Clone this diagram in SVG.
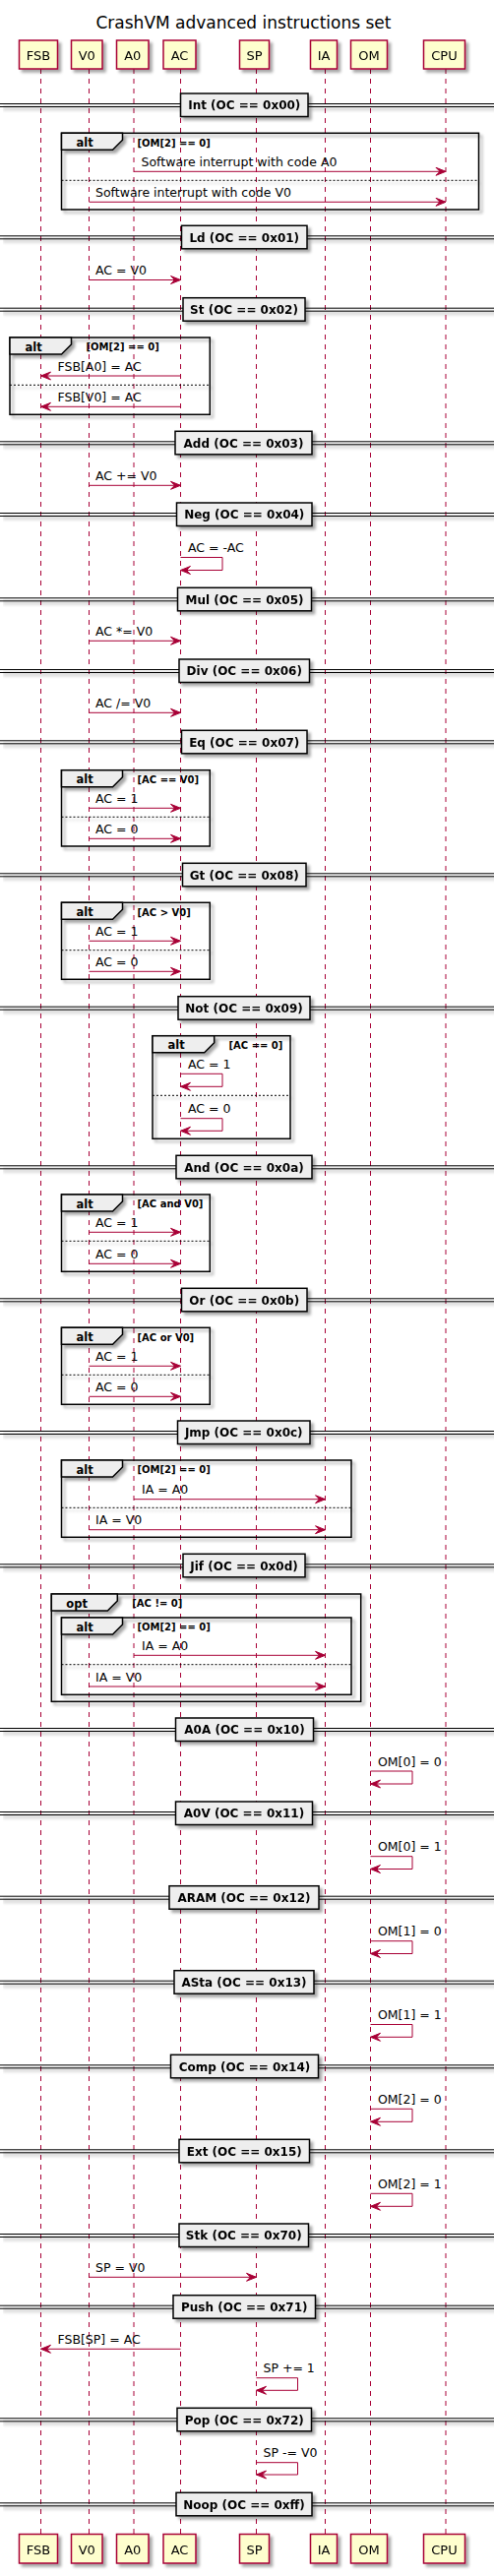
<svg xmlns="http://www.w3.org/2000/svg" width="502" height="2618" viewBox="0 0 502 2618">
<defs>
<filter id="sh" filterUnits="userSpaceOnUse" x="0" y="0" width="502" height="2618">
<feGaussianBlur in="SourceAlpha" stdDeviation="1.5"/>
<feOffset dx="3" dy="3"/>
<feComponentTransfer><feFuncA type="linear" slope="0.35"/></feComponentTransfer>
<feMerge><feMergeNode/><feMergeNode in="SourceGraphic"/></feMerge>
</filter>
<marker id="ah" viewBox="-1 -1 12 10" refX="10" refY="4" markerWidth="12" markerHeight="10" markerUnits="userSpaceOnUse" orient="auto">
<path d="M0,0 L10,4 L0,8 L4,4 Z" fill="#A80036" stroke="#A80036" stroke-width="1"/>
</marker>
</defs>
<style>
.t{font-family:"DejaVu Sans",sans-serif;fill:#000}
.title{font-size:17px;text-anchor:middle}
.pn{font-size:13px;text-anchor:middle}
.pb{fill:#FEFECE;stroke:#A80036;stroke-width:1.5}
.ll{stroke:#A80036;stroke-width:1;stroke-dasharray:5,5;fill:none}
.dl{stroke:#000;stroke-width:1}
.db{fill:#EEEEEE;stroke:#000;stroke-width:1.5}
.dt{font-size:12px;font-weight:bold;text-anchor:middle}
.fr{fill:none;stroke:#000;stroke-width:1.5}
.tab{fill:#EEEEEE;stroke:#000;stroke-width:1.5}
.ft{font-size:11.5px;font-weight:bold}
.gt{font-size:10px;font-weight:bold}
.sep{stroke:#000;stroke-width:1;stroke-dasharray:2,2}
.m{stroke:#A80036;stroke-width:1;fill:none;marker-end:url(#ah)}
.ml{font-size:12.5px}
</style>
<rect x="0" y="0" width="502" height="2618" fill="#FFFFFF"/>
<text class="t title" x="247.5" y="29">CrashVM advanced instructions set</text>

<g id="lifelines">
<line class="ll" x1="41.5" y1="70" x2="41.5" y2="2575"/>
<line class="ll" x1="90.5" y1="70" x2="90.5" y2="2575"/>
<line class="ll" x1="136" y1="70" x2="136" y2="2575"/>
<line class="ll" x1="183.5" y1="70" x2="183.5" y2="2575"/>
<line class="ll" x1="260.5" y1="70" x2="260.5" y2="2575"/>
<line class="ll" x1="330.5" y1="70" x2="330.5" y2="2575"/>
<line class="ll" x1="376.5" y1="70" x2="376.5" y2="2575"/>
<line class="ll" x1="453" y1="70" x2="453" y2="2575"/>
</g>

<g id="p-FSB" filter="url(#sh)">
<rect class="pb" x="19.5" y="41" width="39" height="29"/><text class="t pn" x="39" y="61">FSB</text>
<rect class="pb" x="19.5" y="2575.5" width="39" height="29.5"/><text class="t pn" x="39" y="2596">FSB</text>
</g>
<g id="p-V0" filter="url(#sh)">
<rect class="pb" x="72.5" y="41" width="31.5" height="29"/><text class="t pn" x="88.25" y="61">V0</text>
<rect class="pb" x="72.5" y="2575.5" width="31.5" height="29.5"/><text class="t pn" x="88.25" y="2596">V0</text>
</g>
<g id="p-A0" filter="url(#sh)">
<rect class="pb" x="118.5" y="41" width="32.5" height="29"/><text class="t pn" x="134.75" y="61">A0</text>
<rect class="pb" x="118.5" y="2575.5" width="32.5" height="29.5"/><text class="t pn" x="134.75" y="2596">A0</text>
</g>
<g id="p-AC" filter="url(#sh)">
<rect class="pb" x="166" y="41" width="33" height="29"/><text class="t pn" x="182.5" y="61">AC</text>
<rect class="pb" x="166" y="2575.5" width="33" height="29.5"/><text class="t pn" x="182.5" y="2596">AC</text>
</g>
<g id="p-SP" filter="url(#sh)">
<rect class="pb" x="243.5" y="41" width="30" height="29"/><text class="t pn" x="258.5" y="61">SP</text>
<rect class="pb" x="243.5" y="2575.5" width="30" height="29.5"/><text class="t pn" x="258.5" y="2596">SP</text>
</g>
<g id="p-IA" filter="url(#sh)">
<rect class="pb" x="315.5" y="41" width="27" height="29"/><text class="t pn" x="329" y="61">IA</text>
<rect class="pb" x="315.5" y="2575.5" width="27" height="29.5"/><text class="t pn" x="329" y="2596">IA</text>
</g>
<g id="p-OM" filter="url(#sh)">
<rect class="pb" x="356.5" y="41" width="37" height="29"/><text class="t pn" x="375" y="61">OM</text>
<rect class="pb" x="356.5" y="2575.5" width="37" height="29.5"/><text class="t pn" x="375" y="2596">OM</text>
</g>
<g id="p-CPU" filter="url(#sh)">
<rect class="pb" x="430.5" y="41" width="42" height="29"/><text class="t pn" x="451.5" y="61">CPU</text>
<rect class="pb" x="430.5" y="2575.5" width="42" height="29.5"/><text class="t pn" x="451.5" y="2596">CPU</text>
</g>

<g id="dividers">
<g id="d-int" filter="url(#sh)"><line class="dl" x1="0" y1="105.5" x2="502" y2="105.5"/><line class="dl" x1="0" y1="108.5" x2="502" y2="108.5"/><rect class="db" x="183.5" y="95" width="129.5" height="23.5"/><text class="t dt" x="248.25" y="111.3">Int (OC == 0x00)</text></g>
<g id="d-ld" filter="url(#sh)"><line class="dl" x1="0" y1="239.8" x2="502" y2="239.8"/><line class="dl" x1="0" y1="242.8" x2="502" y2="242.8"/><rect class="db" x="184.5" y="229.3" width="127.5" height="23.5"/><text class="t dt" x="248.25" y="245.6">Ld (OC == 0x01)</text></g>
<g id="d-st" filter="url(#sh)"><line class="dl" x1="0" y1="313.2" x2="502" y2="313.2"/><line class="dl" x1="0" y1="316.2" x2="502" y2="316.2"/><rect class="db" x="186" y="302.7" width="124" height="23.5"/><text class="t dt" x="248" y="319">St (OC == 0x02)</text></g>
<g id="d-add" filter="url(#sh)"><line class="dl" x1="0" y1="448.8" x2="502" y2="448.8"/><line class="dl" x1="0" y1="451.8" x2="502" y2="451.8"/><rect class="db" x="178" y="438.3" width="139" height="23.5"/><text class="t dt" x="247.5" y="454.6">Add (OC == 0x03)</text></g>
<g id="d-neg" filter="url(#sh)"><line class="dl" x1="0" y1="521.5" x2="502" y2="521.5"/><line class="dl" x1="0" y1="524.5" x2="502" y2="524.5"/><rect class="db" x="179.5" y="511" width="137.5" height="23.5"/><text class="t dt" x="248.25" y="527.3">Neg (OC == 0x04)</text></g>
<g id="d-mul" filter="url(#sh)"><line class="dl" x1="0" y1="607.8" x2="502" y2="607.8"/><line class="dl" x1="0" y1="610.8" x2="502" y2="610.8"/><rect class="db" x="180.5" y="597.3" width="136" height="23.5"/><text class="t dt" x="248.5" y="613.6">Mul (OC == 0x05)</text></g>
<g id="d-div" filter="url(#sh)"><line class="dl" x1="0" y1="680.5" x2="502" y2="680.5"/><line class="dl" x1="0" y1="683.5" x2="502" y2="683.5"/><rect class="db" x="182" y="670" width="132.5" height="23.5"/><text class="t dt" x="248.25" y="686.3">Div (OC == 0x06)</text></g>
<g id="d-eq" filter="url(#sh)"><line class="dl" x1="0" y1="752.8" x2="502" y2="752.8"/><line class="dl" x1="0" y1="755.8" x2="502" y2="755.8"/><rect class="db" x="184.5" y="742.3" width="127.5" height="23.5"/><text class="t dt" x="248.25" y="758.6">Eq (OC == 0x07)</text></g>
<g id="d-gt" filter="url(#sh)"><line class="dl" x1="0" y1="887.8" x2="502" y2="887.8"/><line class="dl" x1="0" y1="890.8" x2="502" y2="890.8"/><rect class="db" x="185.5" y="877.3" width="125.5" height="23.5"/><text class="t dt" x="248.25" y="893.6">Gt (OC == 0x08)</text></g>
<g id="d-not" filter="url(#sh)"><line class="dl" x1="0" y1="1023.2" x2="502" y2="1023.2"/><line class="dl" x1="0" y1="1026.2" x2="502" y2="1026.2"/><rect class="db" x="181" y="1012.7" width="134" height="23.5"/><text class="t dt" x="248" y="1029">Not (OC == 0x09)</text></g>
<g id="d-and" filter="url(#sh)"><line class="dl" x1="0" y1="1184.8" x2="502" y2="1184.8"/><line class="dl" x1="0" y1="1187.8" x2="502" y2="1187.8"/><rect class="db" x="179" y="1174.3" width="138" height="23.5"/><text class="t dt" x="248" y="1190.6">And (OC == 0x0a)</text></g>
<g id="d-or" filter="url(#sh)"><line class="dl" x1="0" y1="1319.8" x2="502" y2="1319.8"/><line class="dl" x1="0" y1="1322.8" x2="502" y2="1322.8"/><rect class="db" x="184.5" y="1309.3" width="127.5" height="23.5"/><text class="t dt" x="248.25" y="1325.6">Or (OC == 0x0b)</text></g>
<g id="d-jmp" filter="url(#sh)"><line class="dl" x1="0" y1="1454.5" x2="502" y2="1454.5"/><line class="dl" x1="0" y1="1457.5" x2="502" y2="1457.5"/><rect class="db" x="180.5" y="1444" width="134.5" height="23.5"/><text class="t dt" x="247.75" y="1460.3">Jmp (OC == 0x0c)</text></g>
<g id="d-jif" filter="url(#sh)"><line class="dl" x1="0" y1="1589.8" x2="502" y2="1589.8"/><line class="dl" x1="0" y1="1592.8" x2="502" y2="1592.8"/><rect class="db" x="186" y="1579.3" width="124" height="23.5"/><text class="t dt" x="248" y="1595.6">Jif (OC == 0x0d)</text></g>
<g id="d-a0a" filter="url(#sh)"><line class="dl" x1="0" y1="1756.5" x2="502" y2="1756.5"/><line class="dl" x1="0" y1="1759.5" x2="502" y2="1759.5"/><rect class="db" x="178.5" y="1746" width="140" height="23.5"/><text class="t dt" x="248.5" y="1762.3">A0A (OC == 0x10)</text></g>
<g id="d-a0v" filter="url(#sh)"><line class="dl" x1="0" y1="1841.5" x2="502" y2="1841.5"/><line class="dl" x1="0" y1="1844.5" x2="502" y2="1844.5"/><rect class="db" x="178.5" y="1831" width="139" height="23.5"/><text class="t dt" x="248" y="1847.3">A0V (OC == 0x11)</text></g>
<g id="d-aram" filter="url(#sh)"><line class="dl" x1="0" y1="1927.2" x2="502" y2="1927.2"/><line class="dl" x1="0" y1="1930.2" x2="502" y2="1930.2"/><rect class="db" x="172" y="1916.7" width="152" height="23.5"/><text class="t dt" x="248" y="1933">ARAM (OC == 0x12)</text></g>
<g id="d-asta" filter="url(#sh)"><line class="dl" x1="0" y1="2013.2" x2="502" y2="2013.2"/><line class="dl" x1="0" y1="2016.2" x2="502" y2="2016.2"/><rect class="db" x="177" y="2002.7" width="142" height="23.5"/><text class="t dt" x="248" y="2019">ASta (OC == 0x13)</text></g>
<g id="d-comp" filter="url(#sh)"><line class="dl" x1="0" y1="2098.8" x2="502" y2="2098.8"/><line class="dl" x1="0" y1="2101.8" x2="502" y2="2101.8"/><rect class="db" x="173.5" y="2088.3" width="150" height="23.5"/><text class="t dt" x="248.5" y="2104.6">Comp (OC == 0x14)</text></g>
<g id="d-ext" filter="url(#sh)"><line class="dl" x1="0" y1="2184.8" x2="502" y2="2184.8"/><line class="dl" x1="0" y1="2187.8" x2="502" y2="2187.8"/><rect class="db" x="182" y="2174.3" width="132.5" height="23.5"/><text class="t dt" x="248.25" y="2190.6">Ext (OC == 0x15)</text></g>
<g id="d-stk" filter="url(#sh)"><line class="dl" x1="0" y1="2270.5" x2="502" y2="2270.5"/><line class="dl" x1="0" y1="2273.5" x2="502" y2="2273.5"/><rect class="db" x="182" y="2260" width="131.5" height="23.5"/><text class="t dt" x="247.75" y="2276.3">Stk (OC == 0x70)</text></g>
<g id="d-push" filter="url(#sh)"><line class="dl" x1="0" y1="2343.2" x2="502" y2="2343.2"/><line class="dl" x1="0" y1="2346.2" x2="502" y2="2346.2"/><rect class="db" x="176" y="2332.7" width="144.5" height="23.5"/><text class="t dt" x="248.25" y="2349">Push (OC == 0x71)</text></g>
<g id="d-pop" filter="url(#sh)"><line class="dl" x1="0" y1="2457.8" x2="502" y2="2457.8"/><line class="dl" x1="0" y1="2460.8" x2="502" y2="2460.8"/><rect class="db" x="180" y="2447.3" width="136.5" height="23.5"/><text class="t dt" x="248.25" y="2463.6">Pop (OC == 0x72)</text></g>
<g id="d-noop" filter="url(#sh)"><line class="dl" x1="0" y1="2543.8" x2="502" y2="2543.8"/><line class="dl" x1="0" y1="2546.8" x2="502" y2="2546.8"/><rect class="db" x="179" y="2533.3" width="138" height="23.5"/><text class="t dt" x="248" y="2549.6">Noop (OC == 0xff)</text></g>
</g>

<g id="frames">
<g id="f-int" filter="url(#sh)"><rect class="fr" x="62.5" y="135.3" width="424" height="77.7"/><path class="tab" d="M62.5,135.3 H124.5 V142.3 L114.5,152.3 H62.5 Z"/><line class="sep" x1="62.5" y1="183.3" x2="486.5" y2="183.3"/></g>
<text class="t ft" x="77.5" y="149">alt</text><text class="t gt" x="139.5" y="148.5">[OM[2] == 0]</text>

<g id="f-st" filter="url(#sh)"><rect class="fr" x="10" y="343" width="203.3" height="78.3"/><path class="tab" d="M10,343 H72.5 V350 L62.5,360 H10 Z"/><line class="sep" x1="10" y1="391.3" x2="213.3" y2="391.3"/></g>
<text class="t ft" x="25.5" y="356.7">alt</text><text class="t gt" x="87.5" y="356.2">[OM[2] == 0]</text>

<g id="f-eq" filter="url(#sh)"><rect class="fr" x="62.5" y="782.7" width="150.8" height="77.3"/><path class="tab" d="M62.5,782.7 H124.5 V789.7 L114.5,799.7 H62.5 Z"/><line class="sep" x1="62.5" y1="830.3" x2="213.3" y2="830.3"/></g>
<text class="t ft" x="77.5" y="796.4">alt</text><text class="t gt" x="139.5" y="795.9">[AC == V0]</text>

<g id="f-gt" filter="url(#sh)"><rect class="fr" x="62.5" y="917.3" width="150.8" height="78"/><path class="tab" d="M62.5,917.3 H124.5 V924.3 L114.5,934.3 H62.5 Z"/><line class="sep" x1="62.5" y1="965.7" x2="213.3" y2="965.7"/></g>
<text class="t ft" x="77.5" y="931">alt</text><text class="t gt" x="139.5" y="930.5">[AC &gt; V0]</text>

<g id="f-not" filter="url(#sh)"><rect class="fr" x="155" y="1052.7" width="140" height="104.6"/><path class="tab" d="M155,1052.7 H217.7 V1059.7 L207.7,1069.7 H155 Z"/><line class="sep" x1="155" y1="1113.3" x2="295" y2="1113.3"/></g>
<text class="t ft" x="170.5" y="1066.4">alt</text><text class="t gt" x="232.5" y="1065.9">[AC == 0]</text>

<g id="f-and" filter="url(#sh)"><rect class="fr" x="62.5" y="1214" width="150.8" height="78.3"/><path class="tab" d="M62.5,1214 H124.5 V1221 L114.5,1231 H62.5 Z"/><line class="sep" x1="62.5" y1="1261.3" x2="213.3" y2="1261.3"/></g>
<text class="t ft" x="77.5" y="1227.7">alt</text><text class="t gt" x="139.5" y="1227.2">[AC and V0]</text>

<g id="f-or" filter="url(#sh)"><rect class="fr" x="62.5" y="1349.3" width="150.8" height="78"/><path class="tab" d="M62.5,1349.3 H124.5 V1356.3 L114.5,1366.3 H62.5 Z"/><line class="sep" x1="62.5" y1="1397.3" x2="213.3" y2="1397.3"/></g>
<text class="t ft" x="77.5" y="1363">alt</text><text class="t gt" x="139.5" y="1362.5">[AC or V0]</text>

<g id="f-jmp" filter="url(#sh)"><rect class="fr" x="62.5" y="1484" width="294.5" height="78.3"/><path class="tab" d="M62.5,1484 H124.5 V1491 L114.5,1501 H62.5 Z"/><line class="sep" x1="62.5" y1="1532.3" x2="357" y2="1532.3"/></g>
<text class="t ft" x="77.5" y="1497.7">alt</text><text class="t gt" x="139.5" y="1497.2">[OM[2] == 0]</text>

<g id="f-jif-opt" filter="url(#sh)"><rect class="fr" x="52.3" y="1620" width="314.4" height="109.3"/><path class="tab" d="M52.3,1620 H119.3 V1627 L109.3,1637 H52.3 Z"/></g>
<text class="t ft" x="67.3" y="1633.7">opt</text><text class="t gt" x="134.3" y="1633.2">[AC != 0]</text>
<g id="f-jif-alt" filter="url(#sh)"><rect class="fr" x="62.5" y="1644" width="294.5" height="78.3"/><path class="tab" d="M62.5,1644 H124.5 V1651 L114.5,1661 H62.5 Z"/><line class="sep" x1="62.5" y1="1691.7" x2="357" y2="1691.7"/></g>
<text class="t ft" x="77.5" y="1657.7">alt</text><text class="t gt" x="139.5" y="1657.2">[OM[2] == 0]</text>
</g>

<g id="connectors">
<line class="m" x1="136" y1="174.3" x2="453" y2="174.3"/><text class="t ml" x="143.5" y="168.8">Software interrupt with code A0</text>
<line class="m" x1="90.5" y1="205.3" x2="453" y2="205.3"/><text class="t ml" x="97" y="199.8">Software interrupt with code V0</text>

<line class="m" x1="90.5" y1="284.5" x2="183.5" y2="284.5"/><text class="t ml" x="97" y="279">AC = V0</text>

<line class="m" x1="183.5" y1="382" x2="41.5" y2="382"/><text class="t ml" x="58.5" y="376.5">FSB[A0] = AC</text>
<line class="m" x1="183.5" y1="413.3" x2="41.5" y2="413.3"/><text class="t ml" x="58.5" y="407.8">FSB[V0] = AC</text>

<line class="m" x1="90.5" y1="493.3" x2="183.5" y2="493.3"/><text class="t ml" x="97" y="487.8">AC += V0</text>

<path class="m" d="M183.5,566.5 H226 V579.5 H183.5"/><text class="t ml" x="191" y="561">AC = -AC</text>

<line class="m" x1="90.5" y1="651.3" x2="183.5" y2="651.3"/><text class="t ml" x="97" y="645.8">AC *= V0</text>

<line class="m" x1="90.5" y1="724.3" x2="183.5" y2="724.3"/><text class="t ml" x="97" y="718.8">AC /= V0</text>

<line class="m" x1="90.5" y1="821.3" x2="183.5" y2="821.3"/><text class="t ml" x="97" y="815.8">AC = 1</text>
<line class="m" x1="90.5" y1="852.3" x2="183.5" y2="852.3"/><text class="t ml" x="97" y="846.8">AC = 0</text>

<line class="m" x1="90.5" y1="956.3" x2="183.5" y2="956.3"/><text class="t ml" x="97" y="950.8">AC = 1</text>
<line class="m" x1="90.5" y1="987.3" x2="183.5" y2="987.3"/><text class="t ml" x="97" y="981.8">AC = 0</text>

<path class="m" d="M183.5,1091.3 H226 V1104.3 H183.5"/><text class="t ml" x="191" y="1085.8">AC = 1</text>
<path class="m" d="M183.5,1136.7 H226 V1149.3 H183.5"/><text class="t ml" x="191" y="1131.2">AC = 0</text>

<line class="m" x1="90.5" y1="1252.3" x2="183.5" y2="1252.3"/><text class="t ml" x="97" y="1246.8">AC = 1</text>
<line class="m" x1="90.5" y1="1284.3" x2="183.5" y2="1284.3"/><text class="t ml" x="97" y="1278.8">AC = 0</text>

<line class="m" x1="90.5" y1="1388.3" x2="183.5" y2="1388.3"/><text class="t ml" x="97" y="1382.8">AC = 1</text>
<line class="m" x1="90.5" y1="1419.3" x2="183.5" y2="1419.3"/><text class="t ml" x="97" y="1413.8">AC = 0</text>

<line class="m" x1="136" y1="1523.7" x2="330.5" y2="1523.7"/><text class="t ml" x="144" y="1518.2">IA = A0</text>
<line class="m" x1="90.5" y1="1554.7" x2="330.5" y2="1554.7"/><text class="t ml" x="97" y="1549.2">IA = V0</text>

<line class="m" x1="136" y1="1682.3" x2="330.5" y2="1682.3"/><text class="t ml" x="144" y="1676.8">IA = A0</text>
<line class="m" x1="90.5" y1="1714" x2="330.5" y2="1714"/><text class="t ml" x="97" y="1708.5">IA = V0</text>

<path class="m" d="M376.5,1800 H419 V1813 H376.5"/><text class="t ml" x="384" y="1794.5">OM[0] = 0</text>
<path class="m" d="M376.5,1886.7 H419 V1899.5 H376.5"/><text class="t ml" x="384" y="1881.2">OM[0] = 1</text>
<path class="m" d="M376.5,1972.7 H419 V1985.5 H376.5"/><text class="t ml" x="384" y="1967.2">OM[1] = 0</text>
<path class="m" d="M376.5,2057.5 H419 V2070.3 H376.5"/><text class="t ml" x="384" y="2052">OM[1] = 1</text>
<path class="m" d="M376.5,2143.3 H419 V2156.3 H376.5"/><text class="t ml" x="384" y="2137.8">OM[2] = 0</text>
<path class="m" d="M376.5,2229.3 H419 V2242.3 H376.5"/><text class="t ml" x="384" y="2223.8">OM[2] = 1</text>

<line class="m" x1="90.5" y1="2314.3" x2="260.5" y2="2314.3"/><text class="t ml" x="97" y="2308.8">SP = V0</text>

<line class="m" x1="183.5" y1="2387.3" x2="41.5" y2="2387.3"/><text class="t ml" x="58.5" y="2381.8">FSB[SP] = AC</text>
<path class="m" d="M260.5,2416.7 H302.5 V2429.3 H260.5"/><text class="t ml" x="267.5" y="2411.2">SP += 1</text>

<path class="m" d="M260.5,2502.7 H302.5 V2515 H260.5"/><text class="t ml" x="267.5" y="2497.2">SP -= V0</text>
</g>
</svg>
